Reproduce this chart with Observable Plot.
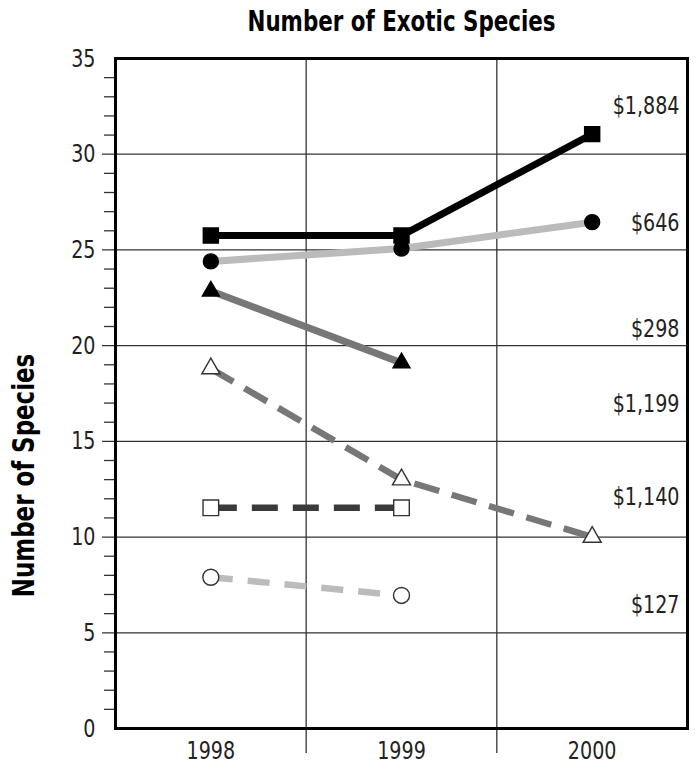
<!DOCTYPE html>
<html><head><meta charset="utf-8">
<script src="https://cdn.jsdelivr.net/npm/d3@7"></script>
<script src="https://cdn.jsdelivr.net/npm/@observablehq/plot@0.6"></script>
<style>body{margin:0;background:#fff;}</style>
</head><body><div id="chart"></div>
<script>
const title = "Number of Exotic Species";
const yTitle = "Number of Species";
const years = [1998, 1999, 2000];
const yearEdges = [1998.5, 1999.5];
const majorTicks = [0, 5, 10, 15, 20, 25, 30, 35];
const gridValues = [5, 10, 15, 20, 25, 30];
const minorTicks = d3.range(1, 35).filter(d => d % 5 !== 0);
const seriesLabels = ["$1,884", "$646", "$298", "$1,199", "$1,140", "$127"];
const s1884 = [25.75, 25.75, 31.05];
const s646 = [24.4, 25.07, 26.45];
const s298 = [22.85, 19.1, null];
const s1199 = [18.8, 13.0, 10.0];
const s1140 = [11.53, 11.53, null];
const s127 = [7.9, 6.95, null];
const labelY = [32.5, 26.4, 20.85, 16.95, 12.1, 6.45];

// styles
const lineColors = ["#000", "#bbb", "#777", "#777", "#3a3a3a", "#bbb"];
const lineWidths = [7, 7, 7, 6.5, 6.5, 6.5];
const dashes = [null, null, null, "26,13", "26,15", "22,15"];
const symbols = ["square", "circle", "triangle", "triangle", "square", "circle"];
const fills = ["#000", "#000", "#000", "#fff", "#fff", "#fff"];
const radii = [8.5, 7.5, 6.3, 6.7, 8.8, 8];

const allSeries = [s1884, s646, s298, s1199, s1140, s127];
const rows = [];
allSeries.forEach((vals, i) => vals.forEach((v, j) => {
  if (v != null) rows.push({series: i, year: years[j], value: v});
}));

const marks = [
  Plot.ruleY(gridValues, {stroke: "#333", strokeWidth: 1.3, insetLeft: -13}),
  Plot.ruleX(yearEdges, {stroke: "#333", strokeWidth: 1.3, insetBottom: -25}),
  Plot.axisY({ticks: minorTicks, tickSize: 11, tickFormat: () => "", label: null, stroke: "#333", strokeWidth: 1.3}),
  Plot.axisY({ticks: majorTicks, tickSize: 0, tickPadding: 20, fontSize: 25, label: null, tickFormat: d => String(d), fill: "#222"}),
  Plot.axisX({ticks: years, tickSize: 0, tickPadding: 13, fontSize: 25, label: null, tickFormat: d => String(d), fill: "#222"}),
];
allSeries.forEach((vals, i) => {
  const data = rows.filter(r => r.series === i);
  marks.push(Plot.line(data, {
    x: "year", y: "value", stroke: lineColors[i], strokeWidth: lineWidths[i],
    strokeDasharray: dashes[i] || undefined, strokeLinecap: "butt", strokeLinejoin: "round"
  }));
});
allSeries.forEach((vals, i) => {
  const data = rows.filter(r => r.series === i);
  marks.push(Plot.dot(data, {
    x: "year", y: "value", symbol: () => symbols[i], r: radii[i],
    fill: fills[i], stroke: fills[i] === "#fff" ? "#333" : "#000", strokeWidth: 1.4
  }));
});
marks.push(
  Plot.text(seriesLabels, {frameAnchor: "right", y: (d, i) => labelY[i], text: d => d, textAnchor: "end", dx: -8, fontSize: 25, fill: "#222"}),
  Plot.frame({stroke: "#000", strokeWidth: 3}),
  Plot.text([title], {frameAnchor: "top", dy: -36, textAnchor: "middle", lineAnchor: "middle", fontSize: 28, fontWeight: "bold", fill: "#000"}),
  Plot.text([yTitle], {frameAnchor: "left", rotate: -90, dx: -91, dy: 82, textAnchor: "middle", lineAnchor: "middle", fontSize: 30, fontWeight: "bold", fill: "#000"})
);

const chart = Plot.plot({
  width: 696, height: 770,
  marginLeft: 115, marginRight: 9, marginTop: 58, marginBottom: 42,
  style: {fontFamily: "'DejaVu Sans Condensed', 'Liberation Sans Narrow', sans-serif", background: "#fff", overflow: "visible"},
  x: {type: "linear", domain: [1997.5, 2000.5], label: null},
  y: {domain: [0, 35], label: null},
  symbol: {type: "identity"},
  marks
});
// narrow the condensed font further to mimic the reference's tall narrow face
chart.querySelectorAll("text").forEach(t => {
  const tr = t.getAttribute("transform") || "";
  t.setAttribute("transform", (tr + " scale(0.85,1)").trim());
});
document.getElementById("chart").appendChild(chart);
</script>
</body></html>
